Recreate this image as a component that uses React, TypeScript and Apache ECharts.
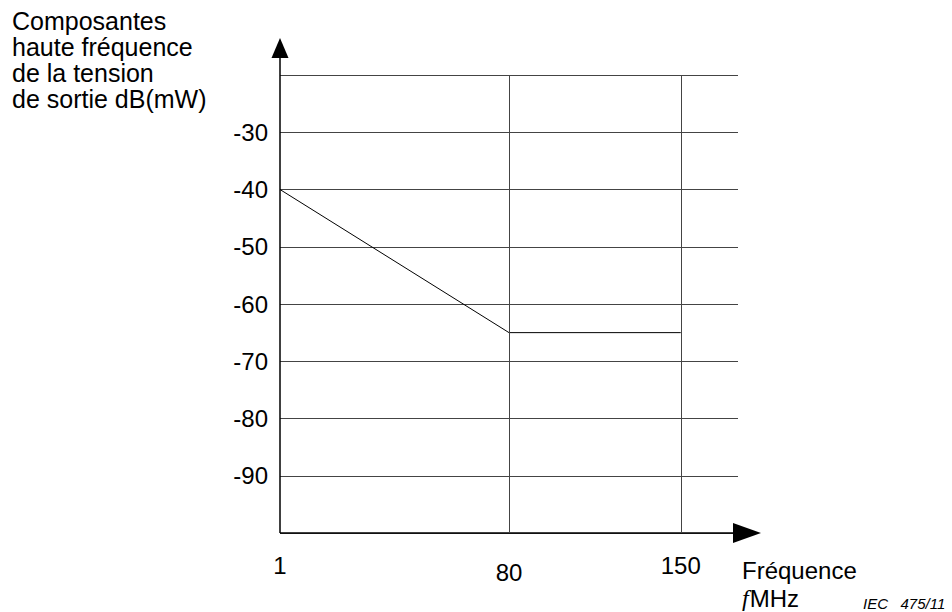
import React, { useEffect, useRef } from "react";
import * as echarts from "echarts";

// Frequency axis (MHz): tick values and their place on the drawn, non-linear axis (in grid units)
const freqTicks = [1, 80, 150];
const freqAxisUnits = [0, 4, 7];
const freqAxisMax = 8;

// Level axis dB(mW)
const levelMin = -100;
const levelMax = -20;
const levelStep = 10;
const levelLabels = [-30, -40, -50, -60, -70, -80, -90];

// Limit curve
const limitFreq = [1, 80, 150];
const limitLevel = [-40, -65, -65];

// Vertical reference lines (MHz)
const verticalFreqs = [80, 150];

const titleLines = [
  "Composantes",
  "haute fréquence",
  "de la tension",
  "de sortie dB(mW)",
];
const xTitle = "Fréquence";
const xUnit = "MHz";
const figureRef = "IEC   475/11";

const FONT = "Liberation Sans, Arial, Helvetica, sans-serif";
const unitOf = (f: number) => freqAxisUnits[freqTicks.indexOf(f)];

export default function App() {
  const ref = useRef<HTMLDivElement>(null);
  useEffect(() => {
    if (!ref.current) return;
    const chart = echarts.init(ref.current, null, { renderer: "svg" });
    chart.setOption({
      animation: false,
      backgroundColor: "#ffffff",
      textStyle: { fontFamily: FONT },
      grid: { left: 280, right: 214, top: 75, bottom: 79 },
      xAxis: {
        type: "value",
        min: 0,
        max: freqAxisMax,
        interval: 1,
        axisLine: { show: false },
        axisTick: { show: false },
        splitLine: { show: false },
        axisLabel: {
          margin: 20,
          fontSize: 24,
          color: "#000",
          fontFamily: FONT,
          formatter: (v: number) => {
            const i = freqAxisUnits.indexOf(v);
            if (i < 0) return "";
            const f = freqTicks[i];
            return f === 80 ? `{low|${f}}` : String(f);
          },
          rich: {
            low: { fontSize: 24, color: "#000", fontFamily: FONT, padding: [7, 0, 0, 0] },
          },
        },
      },
      yAxis: {
        type: "value",
        min: levelMin,
        max: levelMax,
        interval: levelStep,
        axisLine: { show: false },
        axisTick: { show: false },
        splitLine: { show: true, lineStyle: { color: "#444", width: 1 } },
        axisLabel: {
          margin: 12,
          fontSize: 24,
          color: "#000",
          fontFamily: FONT,
          formatter: (v: number) => (levelLabels.includes(v) ? String(v) : ""),
        },
      },
      series: [
        {
          type: "line",
          data: limitFreq.map((f, i) => [unitOf(f), limitLevel[i]]),
          symbol: "none",
          lineStyle: { color: "#000", width: 1 },
          silent: true,
          markLine: {
            silent: true,
            symbol: ["none", "none"],
            label: { show: false },
            lineStyle: { color: "#444", width: 1, type: "solid" },
            data: verticalFreqs.map((f) => ({ xAxis: unitOf(f) })),
          },
        },
      ],
    });

    const o = chart.convertToPixel({ gridIndex: 0 }, [0, levelMin]) as number[];
    const tr = chart.convertToPixel({ gridIndex: 0 }, [freqAxisMax, levelMax]) as number[];
    const ox = o[0], oy = o[1], rx = tr[0], ty = tr[1];

    chart.setOption({
      graphic: [
        {
          type: "line",
          shape: { x1: ox, y1: oy, x2: ox, y2: ty - 17 },
          style: { stroke: "#000", lineWidth: 1.5 },
        },
        {
          type: "polygon",
          shape: { points: [[ox, ty - 37], [ox - 8.5, ty - 17], [ox + 8.5, ty - 17]] },
          style: { fill: "#000" },
        },
        {
          type: "line",
          shape: { x1: ox, y1: oy, x2: rx - 5, y2: oy },
          style: { stroke: "#000", lineWidth: 1.5 },
        },
        {
          type: "polygon",
          shape: { points: [[rx + 23, oy], [rx - 5, oy - 10], [rx - 5, oy + 10]] },
          style: { fill: "#000" },
        },
        {
          type: "text",
          x: 12,
          y: 8,
          style: {
            text: titleLines.join("\n"),
            font: `25px ${FONT}`,
            lineHeight: 26,
            fill: "#000",
            textAlign: "left",
            textVerticalAlign: "top",
          },
        },
        {
          type: "text",
          x: 742,
          y: 570,
          style: {
            text: xTitle,
            font: `24px ${FONT}`,
            fill: "#000",
            textAlign: "left",
            textVerticalAlign: "middle",
          },
        },
        {
          type: "text",
          x: 742,
          y: 598,
          style: {
            text: `{f|f}{u|${xUnit}}`,
            fill: "#000",
            textAlign: "left",
            textVerticalAlign: "middle",
            rich: {
              f: { fontFamily: "Liberation Serif, serif", fontStyle: "italic", fontSize: 24, fill: "#000", padding: [0, 1, 0, 0] },
              u: { fontFamily: FONT, fontSize: 24, fill: "#000" },
            },
          },
        },
        {
          type: "text",
          x: 863,
          y: 603,
          style: {
            text: figureRef,
            font: `italic 15px ${FONT}`,
            fill: "#000",
            textAlign: "left",
            textVerticalAlign: "middle",
          },
        },
      ],
    });

    return () => chart.dispose();
  }, []);
  return (
    <div
      ref={ref}
      style={{ position: "fixed", left: 0, top: 0, width: 952, height: 612 }}
    />
  );
}
